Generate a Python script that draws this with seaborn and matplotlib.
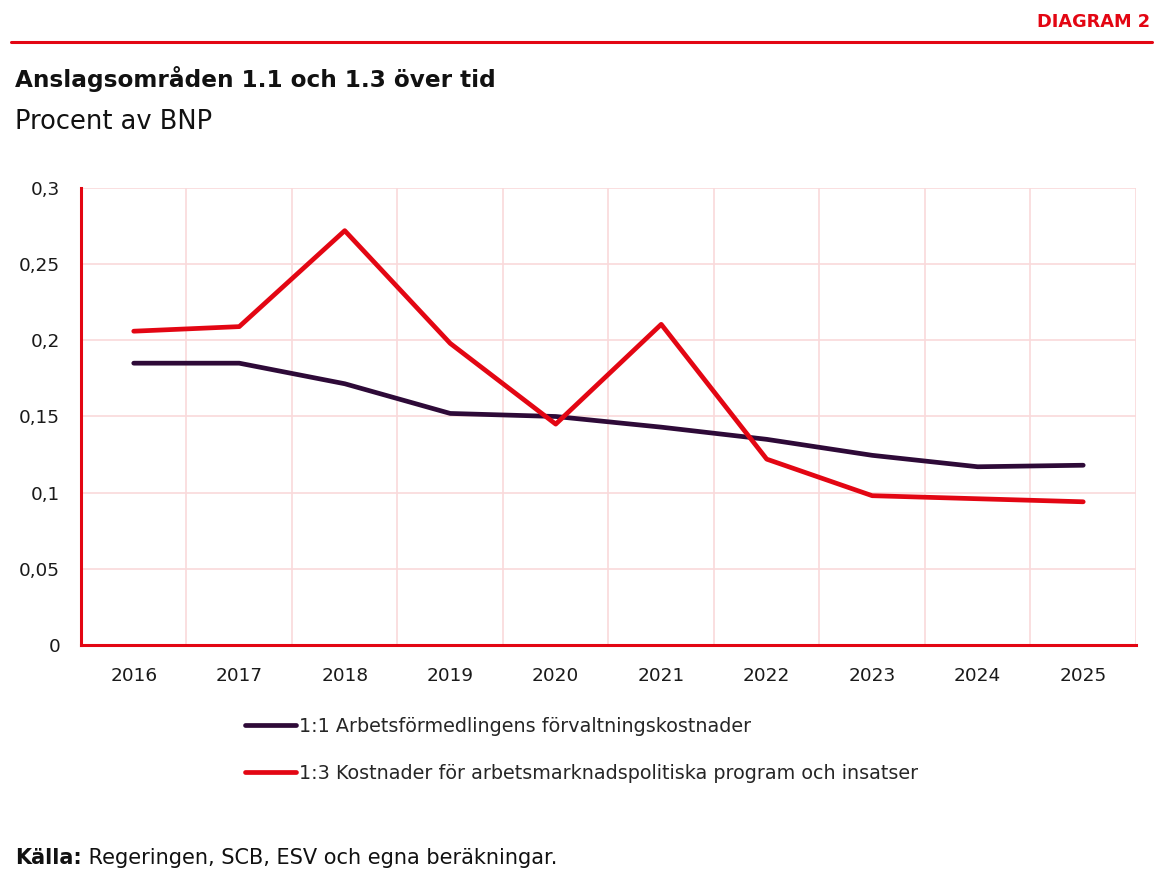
import numpy as np
import pandas as pd
import matplotlib
matplotlib.use("Agg")
import matplotlib.pyplot as plt
import seaborn as sns

# values (procent av BNP)
years = [2016, 2017, 2018, 2019, 2020, 2021, 2022, 2023, 2024, 2025]
forvaltning = [0.185, 0.185, 0.1715, 0.152, 0.150, 0.143, 0.135, 0.1245, 0.117, 0.118]
program = [0.206, 0.209, 0.272, 0.198, 0.145, 0.2105, 0.122, 0.098, 0.096, 0.094]
series_names = ["1:1 Arbetsförmedlingens förvaltningskostnader",
                "1:3 Kostnader för arbetsmarknadspolitiska program och insatser"]
yticks = [0, 0.05, 0.1, 0.15, 0.2, 0.25, 0.3]
ytick_labels = ["0", "0,05", "0,1", "0,15", "0,2", "0,25", "0,3"]

RED = "#e30613"
PURPLE = "#2e0a38"
GRID = "#f9d9da"

df = pd.concat([
    pd.DataFrame({"år": years, "värde": forvaltning, "serie": series_names[0]}),
    pd.DataFrame({"år": years, "värde": program, "serie": series_names[1]}),
])

sns.set_theme(style="white")
plt.rcParams["font.family"] = ["DejaVu Sans"]

fig = plt.figure(figsize=(11.67, 8.81), dpi=100)
ax = fig.add_axes([0.0694, 0.2679, 0.9040, 0.5187])

sns.lineplot(data=df, x="år", y="värde", hue="serie",
             palette={series_names[0]: PURPLE, series_names[1]: RED},
             linewidth=3.4, solid_capstyle="round", ax=ax, legend=False)

ax.set_xlim(2015.5, 2025.5)
ax.set_ylim(0, 0.3)
ax.set_xticks(years)
ax.set_xticklabels([str(y) for y in years], fontsize=13.3)
ax.set_yticks(yticks)
ax.set_yticklabels(ytick_labels, fontsize=13.3)
ax.set_xticks(np.arange(2016.5, 2025.5, 1), minor=True)
ax.grid(True, which="minor", axis="x", color=GRID, linewidth=1.2)
ax.grid(True, which="major", axis="y", color=GRID, linewidth=1.2)
ax.axvline(2025.5, color=GRID, linewidth=1.2, zorder=0)
ax.set_xlabel("")
ax.set_ylabel("")
ax.tick_params(axis="both", length=0, colors="#1a1a1a")
ax.tick_params(axis="x", pad=15.5)
ax.tick_params(axis="y", pad=15)
for side in ["top", "right"]:
    ax.spines[side].set_visible(False)
for side in ["left", "bottom"]:
    ax.spines[side].set_color(RED)
    ax.spines[side].set_linewidth(2.2)

handles = [plt.Line2D([], [], color=PURPLE, linewidth=3.4, solid_capstyle="round"),
           plt.Line2D([], [], color=RED, linewidth=3.4, solid_capstyle="round")]
fig.legend(handles, series_names, loc="upper left", bbox_to_anchor=(0.195, 0.2055),
           frameon=False, fontsize=13.8, handlelength=2.65, handletextpad=0.2,
           labelspacing=1.44)

# header
fig.add_artist(plt.Line2D([11 / 1167, 1152 / 1167], [1 - 42 / 881, 1 - 42 / 881],
                          color=RED, linewidth=2.2))
fig.text(1150 / 1167, 1 - 22 / 881, "DIAGRAM 2", color=RED, fontsize=12.8,
         fontweight="bold", ha="right", va="center")
fig.text(15 / 1167, 1 - 79 / 881, "Anslagsområden 1.1 och 1.3 över tid",
         fontsize=16.7, fontweight="bold", ha="left", va="center", color="#111111")
fig.text(15 / 1167, 1 - 122 / 881, "Procent av BNP", fontsize=18.5,
         ha="left", va="center", color="#111111")
src = fig.text(15 / 1167, 1 - 858 / 881, "Källa:", fontsize=15, fontweight="bold",
               ha="left", va="center", color="#111111")
fig.canvas.draw()
fig.text(0, 0, " Regeringen, SCB, ESV och egna beräkningar.", fontsize=15,
         ha="left", va="center", color="#111111",
         transform=matplotlib.transforms.offset_copy(
             fig.transFigure, fig=fig,
             x=src.get_window_extent().x1 / fig.dpi * 72, y=0, units="points"),
         ).set_y(1 - 858 / 881)

fig.savefig("out.png", dpi=100, facecolor="white")
